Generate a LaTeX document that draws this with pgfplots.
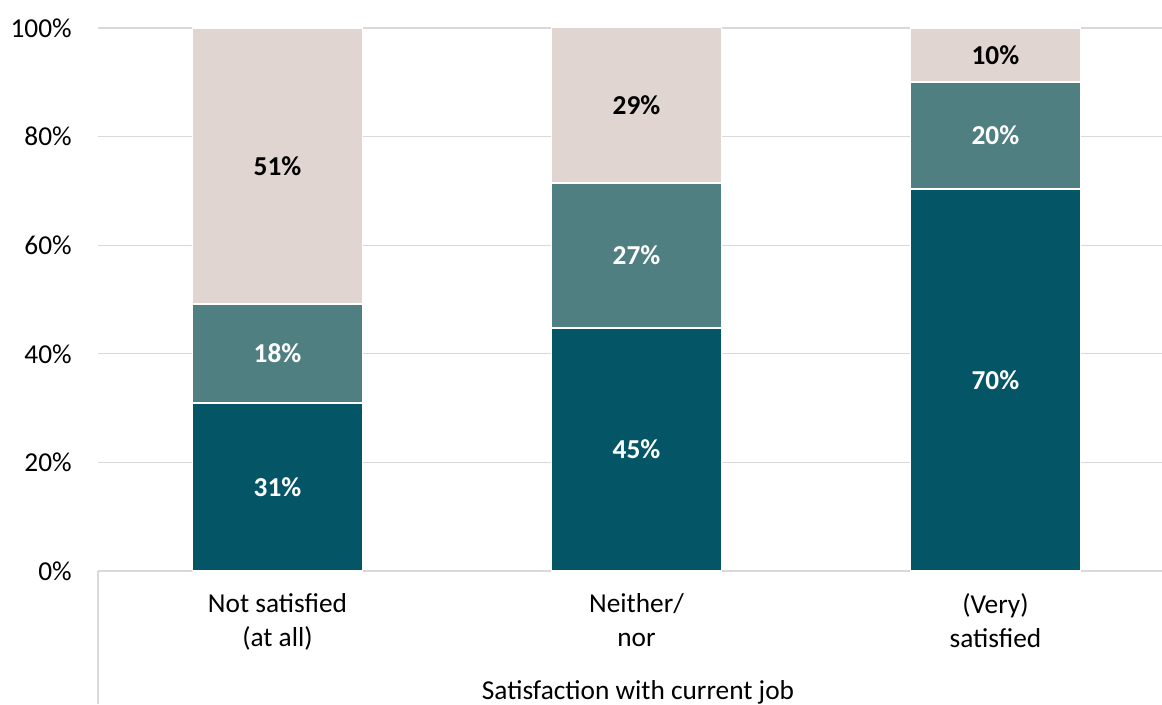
\documentclass[border=0pt]{standalone}
\usepackage{fontspec}
\setmainfont{Carlito}
\usepackage{pgfplots}
\pgfplotsset{compat=1.18}
\definecolor{darkteal}{HTML}{045566}
\definecolor{midteal}{HTML}{4F7F81}
\definecolor{lightrose}{HTML}{E0D5D1}
\definecolor{gridgray}{HTML}{D9D9D9}
\pgfplotsset{
    frame/.style={
        scale only axis,
        width=798pt, height=407.25pt,
        xmin=-0.5, xmax=2.464,
        ymin=0, ymax=100,
        clip=false,
    }
}
\begin{document}
\begin{tikzpicture}
\begin{axis}[
    frame,
    ybar stacked,
    bar width=127.5pt,
    xtick={0,1,2},
    xticklabels={{Not satisfied\\(at all)},{Neither/\\nor},{(Very)\\satisfied}},
    ytick={0,20,40,60,80,100},
    yticklabel={\pgfmathprintnumber{\tick}\%},
    ymajorgrids=true,
    grid style={gridgray, line width=0.9pt},
    axis line style={draw=none},
    tick style={draw=none},
    font=\fontsize{20.5}{25}\selectfont,
    /pgf/number format/assume math mode=true,
    xticklabel style={align=center, inner sep=0pt, yshift=-17pt},
    yticklabel style={anchor=east, inner sep=0pt, xshift=-19.5pt},
    xlabel={Satisfaction with current job},
    xlabel style={anchor=base, at={(axis description cs:0.5,0)}, yshift=-96pt, xshift=6pt},
]
\addplot[fill=darkteal, draw=white, line width=1.2pt]
    coordinates {(0,30.9) (1,44.7) (2,70.3)};
\addplot[fill=midteal, draw=white, line width=1.2pt]
    coordinates {(0,18.3) (1,26.8) (2,19.8)};
\addplot[fill=lightrose, draw=white, line width=1.2pt]
    coordinates {(0,50.8) (1,28.6) (2,9.9)};
\end{axis}
% data labels, at the middle of each segment
\begin{axis}[
    frame,
    hide axis,
    point meta=explicit symbolic,
    nodes near coords,
    every node near coord/.append style={anchor=center,
        font=\fontsize{20.5}{25}\selectfont\bfseries},
]
\addplot[only marks, mark=none, every node near coord/.append style={text=white}]
    coordinates {(0,15.45)[31\%] (1,22.35)[45\%] (2,35.15)[70\%]
                 (0,40.05)[18\%] (1,58.1)[27\%] (2,80.2)[20\%]};
\addplot[only marks, mark=none, every node near coord/.append style={text=black}]
    coordinates {(0,74.6)[51\%] (1,85.7)[29\%] (2,95.05)[10\%]};
\end{axis}
\draw[gridgray, line width=0.9pt] (0,0) -- (0,-99.75pt);
\pgfresetboundingbox
\useasboundingbox (-73.5pt,-99.75pt) rectangle (798pt,428.25pt);
\end{tikzpicture}
\end{document}
